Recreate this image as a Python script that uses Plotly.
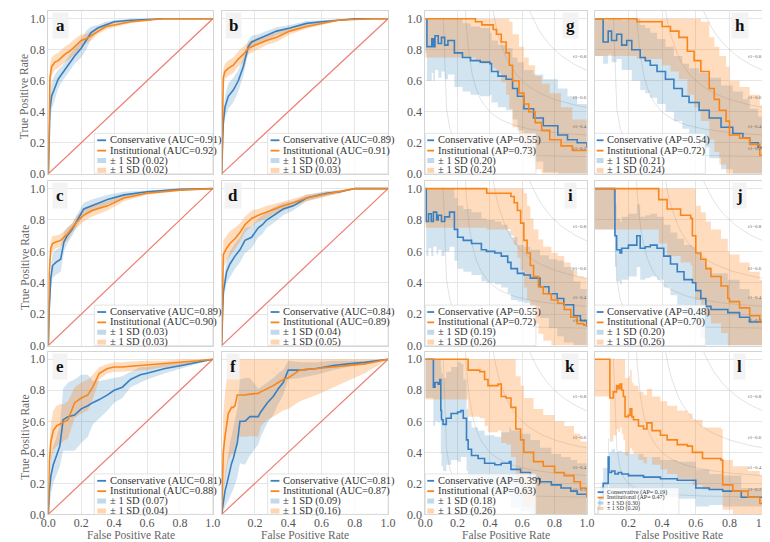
import numpy as np
import plotly.graph_objects as go

# ---------------- data ----------------
# ROC panels: common FPR grid, mean TPR and SD per model
A_FPR = [0, 0.01, 0.02, 0.04, 0.06, 0.08, 0.10, 0.13, 0.16, 0.20, 0.23, 0.26, 0.30, 0.35, 0.40, 0.50, 0.60, 0.70, 0.80, 1.0]
A_CONS = [0, 0.42, 0.50, 0.56, 0.61, 0.64, 0.67, 0.72, 0.76, 0.81, 0.86, 0.91, 0.94, 0.96, 0.98, 0.99, 0.995, 1, 1, 1]
A_CONS_SD = [0, 0.08, 0.09, 0.08, 0.06, 0.05, 0.05, 0.05, 0.05, 0.06, 0.06, 0.04, 0.02, 0.02, 0.01, 0.01, 0.005, 0, 0, 0]
A_INST = [0, 0.62, 0.69, 0.72, 0.73, 0.75, 0.77, 0.79, 0.82, 0.86, 0.87, 0.89, 0.92, 0.95, 0.96, 0.98, 0.99, 1, 1, 1]
A_INST_SD = [0, 0.08, 0.06, 0.05, 0.05, 0.05, 0.05, 0.05, 0.05, 0.04, 0.03, 0.03, 0.02, 0.02, 0.015, 0.01, 0.005, 0, 0, 0]

B_FPR = [0, 0.01, 0.02, 0.04, 0.07, 0.10, 0.13, 0.16, 0.18, 0.22, 0.27, 0.33, 0.41, 0.51, 0.60, 0.70, 0.80, 0.90, 1.0]
B_CONS = [0, 0.33, 0.43, 0.50, 0.54, 0.60, 0.69, 0.82, 0.85, 0.87, 0.89, 0.92, 0.94, 0.97, 0.98, 0.99, 1.0, 1.0, 1.0]
B_CONS_SD = [0, 0.05, 0.07, 0.08, 0.08, 0.07, 0.06, 0.04, 0.04, 0.03, 0.03, 0.025, 0.02, 0.015, 0.01, 0.005, 0, 0, 0]
B_INST = [0, 0.62, 0.66, 0.68, 0.70, 0.74, 0.77, 0.81, 0.82, 0.84, 0.86, 0.88, 0.92, 0.95, 0.97, 0.99, 0.995, 1.0, 1.0]
B_INST_SD = [0, 0.06, 0.05, 0.05, 0.05, 0.05, 0.05, 0.04, 0.04, 0.04, 0.03, 0.03, 0.02, 0.015, 0.01, 0.005, 0, 0, 0]

C_FPR = [0, 0.005, 0.015, 0.026, 0.046, 0.075, 0.095, 0.115, 0.145, 0.175, 0.215, 0.265, 0.36, 0.46, 0.60, 0.80, 1.0]
C_CONS = [0, 0.22, 0.43, 0.51, 0.53, 0.55, 0.66, 0.70, 0.74, 0.80, 0.87, 0.89, 0.93, 0.96, 0.98, 0.995, 1.0]
C_CONS_SD = [0, 0.05, 0.07, 0.08, 0.08, 0.08, 0.06, 0.05, 0.04, 0.04, 0.04, 0.04, 0.03, 0.02, 0.01, 0.005, 0]
C_INST = [0, 0.45, 0.62, 0.65, 0.66, 0.67, 0.69, 0.71, 0.75, 0.79, 0.83, 0.86, 0.89, 0.94, 0.97, 0.99, 1.0]
C_INST_SD = [0, 0.05, 0.05, 0.05, 0.04, 0.04, 0.04, 0.04, 0.03, 0.04, 0.04, 0.04, 0.03, 0.02, 0.01, 0.005, 0]

D_FPR = [0, 0.01, 0.03, 0.05, 0.08, 0.11, 0.14, 0.18, 0.22, 0.245, 0.27, 0.31, 0.37, 0.43, 0.51, 0.63, 0.71, 0.80, 0.90, 1.0]
D_CONS = [0, 0.34, 0.47, 0.52, 0.57, 0.61, 0.67, 0.69, 0.75, 0.77, 0.80, 0.83, 0.87, 0.89, 0.94, 0.97, 0.98, 1.0, 1.0, 1.0]
D_CONS_SD = [0, 0.06, 0.07, 0.08, 0.08, 0.08, 0.08, 0.07, 0.06, 0.06, 0.05, 0.05, 0.04, 0.03, 0.02, 0.015, 0.01, 0, 0, 0]
D_INST = [0, 0.58, 0.62, 0.65, 0.68, 0.72, 0.77, 0.81, 0.83, 0.84, 0.85, 0.87, 0.89, 0.91, 0.94, 0.965, 0.98, 1.0, 1.0, 1.0]
D_INST_SD = [0, 0.09, 0.08, 0.08, 0.07, 0.06, 0.05, 0.05, 0.04, 0.04, 0.04, 0.03, 0.03, 0.025, 0.02, 0.015, 0.01, 0, 0, 0]

E_FPR = [0, 0.006, 0.016, 0.03, 0.05, 0.07, 0.09, 0.12, 0.16, 0.20, 0.24, 0.27, 0.31, 0.36, 0.40, 0.45, 0.50, 0.56, 0.60, 0.71, 0.81, 0.91, 1.0]
E_CONS = [0, 0.15, 0.25, 0.32, 0.38, 0.44, 0.61, 0.63, 0.64, 0.68, 0.70, 0.72, 0.74, 0.77, 0.80, 0.82, 0.87, 0.90, 0.91, 0.94, 0.96, 0.98, 1.0]
E_CONS_SD = [0, 0.1, 0.12, 0.12, 0.12, 0.13, 0.2, 0.22, 0.23, 0.22, 0.2, 0.14, 0.12, 0.1, 0.08, 0.07, 0.05, 0.05, 0.04, 0.03, 0.02, 0.01, 0]
E_INST = [0, 0.34, 0.47, 0.54, 0.57, 0.58, 0.59, 0.61, 0.72, 0.75, 0.77, 0.82, 0.91, 0.94, 0.95, 0.95, 0.955, 0.96, 0.96, 0.97, 0.98, 0.99, 1.0]
E_INST_SD = [0, 0.1, 0.12, 0.13, 0.13, 0.13, 0.12, 0.12, 0.1, 0.1, 0.1, 0.08, 0.04, 0.03, 0.03, 0.03, 0.03, 0.03, 0.03, 0.02, 0.02, 0.01, 0]

F_FPR = [0, 0.006, 0.01, 0.02, 0.03, 0.04, 0.05, 0.06, 0.07, 0.08, 0.094, 0.10, 0.11, 0.14, 0.17, 0.22, 0.235, 0.275, 0.31, 0.34, 0.37, 0.40, 0.47, 0.57, 0.67, 0.76, 0.86, 1.0]
F_CONS = [0, 0.05, 0.10, 0.15, 0.19, 0.24, 0.29, 0.33, 0.36, 0.40, 0.46, 0.51, 0.60, 0.60, 0.63, 0.63, 0.66, 0.72, 0.76, 0.81, 0.85, 0.93, 0.93, 0.94, 0.96, 0.97, 0.98, 1.0]
F_CONS_SD = [0, 0.05, 0.08, 0.1, 0.12, 0.15, 0.17, 0.19, 0.2, 0.21, 0.22, 0.24, 0.27, 0.28, 0.25, 0.18, 0.16, 0.13, 0.12, 0.1, 0.08, 0.06, 0.05, 0.04, 0.03, 0.02, 0.01, 0]
F_INST = [0, 0.29, 0.40, 0.50, 0.58, 0.65, 0.67, 0.69, 0.69, 0.70, 0.77, 0.77, 0.77, 0.77, 0.775, 0.78, 0.79, 0.81, 0.83, 0.85, 0.87, 0.88, 0.93, 0.94, 0.95, 0.96, 0.97, 1.0]
F_INST_SD = [0, 0.2, 0.25, 0.28, 0.3, 0.3, 0.3, 0.3, 0.3, 0.3, 0.28, 0.27, 0.27, 0.27, 0.27, 0.28, 0.22, 0.2, 0.2, 0.2, 0.2, 0.2, 0.2, 0.17, 0.13, 0.1, 0.06, 0]

# PR panels: recall grid, mean precision and SD per model
G_CONS_R = [0, 0.01, 0.04, 0.05, 0.06, 0.08, 0.10, 0.12, 0.14, 0.17, 0.18, 0.23, 0.28, 0.34, 0.40, 0.41, 0.45, 0.50, 0.54, 0.57, 0.61, 0.67, 0.73, 0.82, 0.88, 0.94, 1.0]
G_CONS_P = [1.0, 0.82, 0.87, 0.82, 0.89, 0.84, 0.88, 0.83, 0.86, 0.86, 0.78, 0.75, 0.73, 0.72, 0.71, 0.66, 0.63, 0.61, 0.55, 0.50, 0.42, 0.36, 0.31, 0.25, 0.22, 0.20, 0.17]
G_CONS_SD = [0.22, 0.22, 0.22, 0.22, 0.22, 0.22, 0.22, 0.22, 0.22, 0.22, 0.22, 0.22, 0.22, 0.22, 0.2, 0.2, 0.2, 0.2, 0.2, 0.22, 0.25, 0.28, 0.3, 0.3, 0.28, 0.25, 0.22]
G_INST_R = [0, 0.31, 0.35, 0.42, 0.44, 0.47, 0.50, 0.52, 0.54, 0.58, 0.61, 0.64, 0.68, 0.72, 0.77, 0.84, 0.91, 1.0]
G_INST_P = [1.0, 0.98, 0.96, 0.93, 0.90, 0.85, 0.78, 0.70, 0.60, 0.52, 0.45, 0.40, 0.33, 0.28, 0.22, 0.18, 0.15, 0.15]
G_INST_SD = [0.25, 0.25, 0.25, 0.25, 0.25, 0.26, 0.27, 0.28, 0.3, 0.3, 0.3, 0.3, 0.3, 0.3, 0.3, 0.25, 0.2, 0.17]

H_CONS_R = [0, 0.05, 0.08, 0.10, 0.13, 0.16, 0.19, 0.22, 0.27, 0.30, 0.33, 0.37, 0.42, 0.47, 0.52, 0.56, 0.62, 0.68, 0.75, 0.82, 0.88, 0.92, 0.97, 1.0]
H_CONS_P = [1.0, 0.85, 0.92, 0.86, 0.90, 0.83, 0.86, 0.80, 0.75, 0.73, 0.70, 0.66, 0.61, 0.55, 0.50, 0.46, 0.41, 0.36, 0.30, 0.26, 0.23, 0.20, 0.17, 0.14]
H_CONS_SD = [0.24, 0.14, 0.15, 0.14, 0.16, 0.16, 0.19, 0.2, 0.21, 0.21, 0.21, 0.21, 0.21, 0.21, 0.21, 0.22, 0.24, 0.26, 0.27, 0.27, 0.25, 0.22, 0.2, 0.2]
H_INST_R = [0, 0.25, 0.40, 0.45, 0.50, 0.55, 0.59, 0.63, 0.68, 0.71, 0.74, 0.78, 0.80, 0.86, 0.92, 0.98, 1.0]
H_INST_P = [1.0, 0.98, 0.95, 0.92, 0.88, 0.79, 0.73, 0.66, 0.55, 0.48, 0.41, 0.34, 0.25, 0.23, 0.19, 0.12, 0.08]
H_INST_SD = [0.24, 0.24, 0.25, 0.26, 0.27, 0.28, 0.3, 0.32, 0.33, 0.34, 0.35, 0.35, 0.35, 0.33, 0.32, 0.32, 0.32]

I_CONS_R = [0, 0.006, 0.02, 0.037, 0.05, 0.07, 0.08, 0.10, 0.12, 0.15, 0.18, 0.20, 0.235, 0.286, 0.347, 0.378, 0.43, 0.47, 0.51, 0.53, 0.57, 0.61, 0.65, 0.71, 0.765, 0.816, 0.857, 0.918, 0.96, 1.0]
I_CONS_P = [1.0, 0.79, 0.84, 0.79, 0.85, 0.80, 0.83, 0.79, 0.82, 0.85, 0.74, 0.69, 0.67, 0.65, 0.61, 0.60, 0.59, 0.57, 0.53, 0.49, 0.46, 0.45, 0.43, 0.375, 0.33, 0.30, 0.26, 0.19, 0.16, 0.12]
I_CONS_SD = [0.22, 0.22, 0.22, 0.22, 0.22, 0.22, 0.22, 0.22, 0.22, 0.22, 0.2, 0.2, 0.2, 0.2, 0.2, 0.2, 0.2, 0.2, 0.2, 0.2, 0.18, 0.18, 0.18, 0.2, 0.22, 0.24, 0.24, 0.22, 0.2, 0.2]
I_INST_R = [0, 0.38, 0.53, 0.55, 0.57, 0.59, 0.61, 0.63, 0.65, 0.67, 0.70, 0.73, 0.78, 0.82, 0.86, 0.90, 0.94, 0.98, 1.0]
I_INST_P = [1.0, 0.97, 0.95, 0.91, 0.86, 0.78, 0.67, 0.59, 0.51, 0.44, 0.375, 0.33, 0.29, 0.27, 0.23, 0.18, 0.14, 0.13, 0.12]
I_INST_SD = [0.25, 0.23, 0.25, 0.27, 0.3, 0.3, 0.3, 0.3, 0.3, 0.3, 0.3, 0.3, 0.3, 0.3, 0.3, 0.3, 0.3, 0.3, 0.3]

J_CONS_R = [0, 0.12, 0.13, 0.15, 0.16, 0.20, 0.25, 0.27, 0.30, 0.33, 0.37, 0.41, 0.45, 0.49, 0.53, 0.58, 0.60, 0.63, 0.66, 0.69, 0.79, 0.86, 0.92, 1.0]
J_CONS_P = [1.0, 0.70, 0.61, 0.59, 0.62, 0.64, 0.70, 0.62, 0.63, 0.64, 0.62, 0.57, 0.52, 0.47, 0.42, 0.40, 0.35, 0.30, 0.25, 0.23, 0.21, 0.18, 0.15, 0.12]
J_CONS_SD = [0.26, 0.2, 0.2, 0.2, 0.2, 0.2, 0.2, 0.2, 0.2, 0.2, 0.2, 0.2, 0.2, 0.21, 0.22, 0.23, 0.24, 0.25, 0.25, 0.23, 0.21, 0.18, 0.15, 0.12]
J_INST_R = [0, 0.38, 0.43, 0.51, 0.57, 0.58, 0.60, 0.63, 0.66, 0.69, 0.75, 0.79, 0.80, 0.86, 0.92, 0.98, 1.0]
J_INST_P = [1.0, 0.93, 0.87, 0.83, 0.81, 0.70, 0.59, 0.55, 0.49, 0.44, 0.38, 0.30, 0.28, 0.24, 0.19, 0.15, 0.13]
J_INST_SD = [0.26, 0.28, 0.3, 0.3, 0.3, 0.3, 0.3, 0.3, 0.3, 0.3, 0.3, 0.3, 0.3, 0.29, 0.28, 0.27, 0.27]

K_CONS_R = [0, 0.05, 0.06, 0.08, 0.09, 0.096, 0.10, 0.11, 0.13, 0.16, 0.20, 0.22, 0.235, 0.255, 0.265, 0.286, 0.327, 0.367, 0.43, 0.47, 0.52, 0.53, 0.59, 0.65, 0.71, 0.78, 0.84, 0.90, 0.94, 1.0]
K_CONS_P = [1.0, 0.82, 0.85, 0.84, 0.87, 0.67, 0.61, 0.58, 0.62, 0.65, 0.66, 0.67, 0.62, 0.48, 0.42, 0.38, 0.36, 0.33, 0.32, 0.33, 0.34, 0.29, 0.27, 0.23, 0.21, 0.19, 0.17, 0.15, 0.13, 0.11]
K_CONS_SD = [0.25, 0.25, 0.25, 0.25, 0.25, 0.28, 0.3, 0.3, 0.3, 0.3, 0.32, 0.3, 0.25, 0.2, 0.18, 0.18, 0.18, 0.18, 0.18, 0.2, 0.22, 0.25, 0.25, 0.25, 0.22, 0.2, 0.2, 0.2, 0.2, 0.2]
K_INST_R = [0, 0.265, 0.337, 0.367, 0.388, 0.45, 0.47, 0.50, 0.53, 0.56, 0.59, 0.61, 0.67, 0.73, 0.80, 0.86, 0.92, 0.96, 1.0]
K_INST_P = [1.0, 0.93, 0.92, 0.87, 0.83, 0.84, 0.76, 0.75, 0.69, 0.55, 0.48, 0.40, 0.34, 0.31, 0.27, 0.25, 0.21, 0.17, 0.11]
K_INST_SD = [0.26, 0.3, 0.3, 0.3, 0.3, 0.3, 0.3, 0.3, 0.32, 0.34, 0.35, 0.35, 0.34, 0.33, 0.33, 0.32, 0.31, 0.3, 0.29]

L_CONS_R = [0, 0.02, 0.03, 0.05, 0.08, 0.085, 0.10, 0.12, 0.14, 0.16, 0.20, 0.29, 0.39, 0.49, 0.60, 0.68, 0.76, 0.87, 1.0]
L_CONS_P = [0.0, 0.05, 0.10, 0.20, 0.37, 0.27, 0.28, 0.26, 0.27, 0.26, 0.25, 0.24, 0.23, 0.22, 0.17, 0.16, 0.15, 0.11, 0.07]
L_CONS_SD = [0, 0.05, 0.08, 0.1, 0.12, 0.13, 0.14, 0.14, 0.14, 0.14, 0.14, 0.13, 0.12, 0.12, 0.12, 0.1, 0.1, 0.06, 0.05]
L_INST_R = [0, 0.09, 0.11, 0.13, 0.14, 0.15, 0.16, 0.17, 0.18, 0.20, 0.21, 0.22, 0.23, 0.26, 0.29, 0.31, 0.34, 0.39, 0.43, 0.49, 0.55, 0.58, 0.64, 0.72, 0.75, 0.76, 0.80, 0.82, 0.91, 0.98, 1.0]
L_INST_P = [1.0, 0.75, 0.79, 0.83, 0.81, 0.84, 0.80, 0.76, 0.63, 0.64, 0.68, 0.63, 0.61, 0.57, 0.55, 0.59, 0.54, 0.51, 0.48, 0.45, 0.44, 0.40, 0.36, 0.36, 0.35, 0.19, 0.19, 0.15, 0.11, 0.07, 0.06]
L_INST_SD = [0.24, 0.28, 0.28, 0.28, 0.28, 0.28, 0.28, 0.28, 0.25, 0.25, 0.25, 0.22, 0.22, 0.22, 0.22, 0.22, 0.22, 0.22, 0.22, 0.22, 0.21, 0.21, 0.2, 0.2, 0.2, 0.16, 0.16, 0.16, 0.17, 0.18, 0.18]

LEG_A = ["Conservative (AUC=0.91)", "Institutional (AUC=0.92)", "± 1 SD (0.02)", "± 1 SD (0.02)"]
LEG_B = ["Conservative (AUC=0.89)", "Institutional (AUC=0.91)", "± 1 SD (0.02)", "± 1 SD (0.03)"]
LEG_C = ["Conservative (AUC=0.89)", "Institutional (AUC=0.90)", "± 1 SD (0.03)", "± 1 SD (0.03)"]
LEG_D = ["Conservative (AUC=0.84)", "Institutional (AUC=0.89)", "± 1 SD (0.04)", "± 1 SD (0.05)"]
LEG_E = ["Conservative (AUC=0.81)", "Institutional (AUC=0.88)", "± 1 SD (0.07)", "± 1 SD (0.04)"]
LEG_F = ["Conservative (AUC=0.81)", "Institutional (AUC=0.87)", "± 1 SD (0.09)", "± 1 SD (0.16)"]
LEG_G = ["Conservative (AP=0.55)", "Institutional (AP=0.73)", "± 1 SD (0.20)", "± 1 SD (0.24)"]
LEG_H = ["Conservative (AP=0.54)", "Institutional (AP=0.72)", "± 1 SD (0.21)", "± 1 SD (0.24)"]
LEG_I = ["Conservative (AP=0.55)", "Institutional (AP=0.72)", "± 1 SD (0.19)", "± 1 SD (0.26)"]
LEG_J = ["Conservative (AP=0.48)", "Institutional (AP=0.70)", "± 1 SD (0.20)", "± 1 SD (0.26)"]
LEG_K = ["Conservative (AP=0.39)", "Institutional (AP=0.63)", "± 1 SD (0.18)", "± 1 SD (0.26)"]
LEG_L = ["Conservative (AP= 0.19)", "Institutional (AP= 0.47)", "± 1 SD (0.30)", "± 1 SD (0.20)"]

ISO_F1 = [0.2, 0.4, 0.6, 0.8]
AXIS_TICKS = [0.0, 0.2, 0.4, 0.6, 0.8, 1.0]
X_TITLE = "False Positive Rate"
Y_TITLE = "True Positive Rate"

PANELS = [
    ("a", "roc", A_FPR, A_CONS, A_CONS_SD, A_FPR, A_INST, A_INST_SD, LEG_A),
    ("b", "roc", B_FPR, B_CONS, B_CONS_SD, B_FPR, B_INST, B_INST_SD, LEG_B),
    ("g", "pr", G_CONS_R, G_CONS_P, G_CONS_SD, G_INST_R, G_INST_P, G_INST_SD, LEG_G),
    ("h", "pr", H_CONS_R, H_CONS_P, H_CONS_SD, H_INST_R, H_INST_P, H_INST_SD, LEG_H),
    ("c", "roc", C_FPR, C_CONS, C_CONS_SD, C_FPR, C_INST, C_INST_SD, LEG_C),
    ("d", "roc", D_FPR, D_CONS, D_CONS_SD, D_FPR, D_INST, D_INST_SD, LEG_D),
    ("i", "pr", I_CONS_R, I_CONS_P, I_CONS_SD, I_INST_R, I_INST_P, I_INST_SD, LEG_I),
    ("j", "pr", J_CONS_R, J_CONS_P, J_CONS_SD, J_INST_R, J_INST_P, J_INST_SD, LEG_J),
    ("e", "roc", E_FPR, E_CONS, E_CONS_SD, E_FPR, E_INST, E_INST_SD, LEG_E),
    ("f", "roc", F_FPR, F_CONS, F_CONS_SD, F_FPR, F_INST, F_INST_SD, LEG_F),
    ("k", "pr", K_CONS_R, K_CONS_P, K_CONS_SD, K_INST_R, K_INST_P, K_INST_SD, LEG_K),
    ("l", "pr", L_CONS_R, L_CONS_P, L_CONS_SD, L_INST_R, L_INST_P, L_INST_SD, LEG_L),
]

# ---------------- style / layout ----------------
W, H = 770, 542
FONT = "'Liberation Serif', 'DejaVu Serif', 'Times New Roman', serif"
BLUE = "#3a7fc0"
ORANGE = "#f8861a"
BLUE_FILL = "rgba(31,119,180,0.2)"
ORANGE_FILL = "rgba(255,127,14,0.27)"
BLUE_SW = "rgba(31,119,180,0.28)"
ORANGE_SW = "rgba(255,127,14,0.33)"
DIAG = "#ec7f74"
GRID = "#e6e6e6"
FRAME = "#d5d5d5"
TICK = "#555555"
COLS_PX = [(33, 201), (210, 380), (418, 583), (591, 763)]
ROWS_PX = [(3, 168), (175, 342), (348, 513)]
YMAX = 1.05


def px(x):
    return x / W


def py(y):
    return 1 - y / H


fig = go.Figure()
shapes, annots, axes = [], [], {}

for k, (letter, kind, cx, cy, csd, ix, iy, isd, leg) in enumerate(PANELS):
    r, c = divmod(k, 4)
    xa = "x" if k == 0 else f"x{k + 1}"
    ya = "y" if k == 0 else f"y{k + 1}"
    x0, x1 = COLS_PX[c]
    yt, yb = ROWS_PX[r]
    lshape = "hv" if kind == "pr" else "linear"
    common = dict(xaxis=xa, yaxis=ya, hoverinfo="skip", showlegend=False)

    if kind == "roc":
        fig.add_trace(go.Scatter(x=[0, 1], y=[0, 1], mode="lines",
                                 line=dict(color=DIAG, width=1.2), **common))
    else:
        xs = np.linspace(0.01, 1, 50)
        for f in ISO_F1:
            ys = f * xs / (2 * xs - f)
            m = (ys >= 0) & (ys <= 1.6)
            fig.add_trace(go.Scatter(x=xs[m], y=ys[m], mode="lines",
                                     line=dict(color="rgba(128,128,128,0.22)", width=1), **common))
            annots.append(dict(x=0.9, y=ys[45] + 0.02, xref=xa, yref=ya, text=f"f1={f:0.1f}",
                               showarrow=False, xanchor="left", yanchor="bottom",
                               font=dict(family=FONT, size=5, color="#666")))

    for xs_, ys_, sd_, fc in ((cx, cy, csd, BLUE_FILL), (ix, iy, isd, ORANGE_FILL)):
        m_ = np.array(ys_, dtype=float)
        s_ = np.array(sd_, dtype=float)
        up = np.clip(m_ + s_, 0, 1)
        lo = np.clip(m_ - s_, 0, 1)
        fig.add_trace(go.Scatter(x=xs_, y=up, mode="lines",
                                 line=dict(width=0, shape=lshape, color=fc), **common))
        fig.add_trace(go.Scatter(x=xs_, y=lo, mode="lines", fill="tonexty", fillcolor=fc,
                                 line=dict(width=0, shape=lshape, color=fc), **common))
    for xs_, ys_, col in ((cx, cy, BLUE), (ix, iy, ORANGE)):
        fig.add_trace(go.Scatter(x=xs_, y=ys_, mode="lines",
                                 line=dict(color=col, width=1.6, shape=lshape), **common))

    ax_common = dict(showgrid=True, gridcolor=GRID, gridwidth=1, zeroline=False,
                     showline=True, linecolor=FRAME, linewidth=1, mirror=True, ticks="",
                     tickformat=".1f", tickfont=dict(family=FONT, size=12, color=TICK))
    axes["xaxis" if k == 0 else f"xaxis{k + 1}"] = dict(
        domain=[px(x0), px(x1)], range=[0, 1], anchor=ya,
        tickvals=AXIS_TICKS if c % 2 == 0 else AXIS_TICKS[1:],
        showticklabels=(r == 2), ticklabelstandoff=-3, **ax_common)
    axes["yaxis" if k == 0 else f"yaxis{k + 1}"] = dict(
        domain=[py(yb), py(yt)], range=[0, YMAX], anchor=xa,
        tickvals=AXIS_TICKS, showticklabels=(c % 2 == 0), **ax_common)

    # legend
    if kind == "roc":
        sw0, sw1, tx = x0 + 50, x0 + 59, x0 + 61
        rows = [yb - 34, yb - 23.5, yb - 13.5, yb - 3.5]
        box = (x0 + 47, yb - 41, x1, yb)
        fs = 10.5
    elif letter == "l":
        sw0, sw1, tx = x0 + 3, x0 + 9, x0 + 11
        rows = [yb - 22.5, yb - 17, yb - 11.5, yb - 6]
        box = (x0, yb - 27, x0 + 86, yb)
        fs = 6
    else:
        sw0, sw1, tx = x0 + 2, x0 + 9, x0 + 11
        rows = [yb - 34, yb - 23.5, yb - 13.5, yb - 3.5]
        box = (x0, yb - 41, x0 + 113, yb)
        fs = 10.5
    shapes.append(dict(type="rect", xref="paper", yref="paper",
                       x0=px(box[0]), x1=px(box[2]), y0=py(box[3]), y1=py(box[1]),
                       fillcolor="rgba(255,255,255,0.8)", line=dict(color="#d8d8d8", width=0.7)))
    sw_styles = [(BLUE, 1.8), (ORANGE, 1.8), (BLUE_SW, 5 if fs > 8 else 3), (ORANGE_SW, 5 if fs > 8 else 3)]
    for (col, wd), ry, txt in zip(sw_styles, rows, leg):
        shapes.append(dict(type="line", xref="paper", yref="paper",
                           x0=px(sw0), x1=px(sw1), y0=py(ry), y1=py(ry),
                           line=dict(color=col, width=wd)))
        annots.append(dict(x=px(tx), y=py(ry), xref="paper", yref="paper", text=txt,
                           showarrow=False, xanchor="left", yanchor="middle",
                           font=dict(family=FONT, size=fs, color="#333")))

    # panel letter
    if kind == "roc":
        lx = x0 + 12
    elif c == 2:
        lx = x1 - 17
    else:
        lx = x1 - 24
    annots.append(dict(x=px(lx), y=py(yt + 15), xref="paper", yref="paper",
                       text=f"<b>{letter}</b>", showarrow=False,
                       xanchor="center", yanchor="middle",
                       bgcolor="rgba(242,242,242,0.92)", borderpad=3,
                       font=dict(family=FONT, size=17, color="#111")))

# axis titles
for r in range(3):
    yt, yb = ROWS_PX[r]
    annots.append(dict(x=px(9), y=py((yb + yt + 8) / 2), xref="paper", yref="paper",
                       text=Y_TITLE, textangle=-90, showarrow=False,
                       xanchor="center", yanchor="middle",
                       font=dict(family=FONT, size=11.5, color="#666")))
for c in range(4):
    x0, x1 = COLS_PX[c]
    annots.append(dict(x=px((x0 + x1) / 2), y=py(542), xref="paper", yref="paper",
                       text=X_TITLE, showarrow=False, xanchor="center", yanchor="bottom",
                       font=dict(family=FONT, size=11.5, color="#666")))

fig.update_layout(width=W, height=H, margin=dict(l=0, r=0, t=0, b=0),
                  paper_bgcolor="white", plot_bgcolor="white", showlegend=False,
                  font=dict(family=FONT, color=TICK),
                  shapes=shapes, annotations=annots, **axes)

fig.write_html("out.html")
